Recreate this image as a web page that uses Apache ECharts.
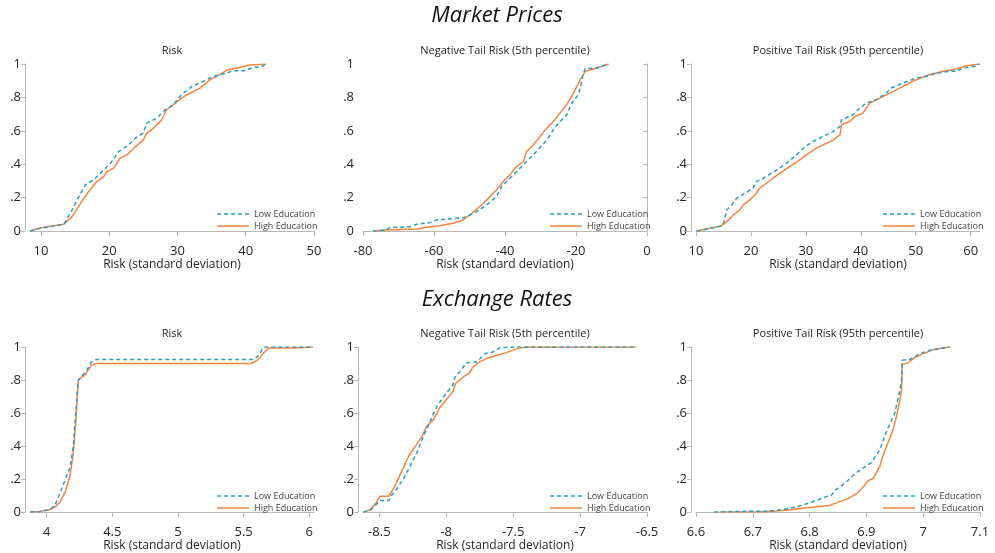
<!DOCTYPE html>
<html>
<head>
<meta charset="utf-8">
<title>Risk distributions by education</title>
<script src="https://cdn.jsdelivr.net/npm/echarts@6/dist/echarts.min.js"></script>
<style>
  html, body { margin: 0; padding: 0; background: #ffffff; }
  #chart { width: 995px; height: 553px; }
</style>
</head>
<body>
<div id="chart"></div>
<script>
// ---- Data: empirical CDFs, [value, cumulative share] ----
const seriesNames = ['Low Education', 'High Education'];
const sectionTitles = ['Market Prices', 'Exchange Rates'];
const panelTitles = ['Risk', 'Negative Tail Risk (5th percentile)', 'Positive Tail Risk (95th percentile)'];
const axisTitle = 'Risk (standard deviation)';
const yTicks = [0, 0.2, 0.4, 0.6, 0.8, 1];

// Market prices
const mpRiskLow = [[8.4,0],[10,0.016],[13.36,0.04],[14.57,0.126],[15.8,0.226],[16.5,0.276],[17.7,0.306],[18.95,0.356],[20.2,0.406],[21.4,0.476],[22.85,0.516],[23.8,0.556],[25.0,0.586],[25.5,0.646],[27.0,0.676],[28.2,0.726],[29.4,0.756],[30.6,0.816],[32.1,0.866],[33.8,0.896],[35.25,0.926],[37.2,0.946],[38.2,0.96],[39.9,0.96],[41.1,0.98],[42.1,0.98],[43.0,1.0]];
const mpRiskHigh = [[8.4,0],[10,0.02],[13.36,0.04],[14.57,0.086],[15.8,0.166],[17.0,0.236],[18.2,0.296],[19.2,0.326],[19.7,0.356],[20.65,0.376],[21.6,0.436],[22.6,0.456],[23.6,0.496],[25.0,0.546],[25.5,0.586],[26.5,0.616],[27.7,0.666],[28.4,0.726],[29.4,0.756],[30.6,0.796],[31.4,0.816],[33.3,0.856],[34.8,0.906],[36.2,0.936],[37.2,0.962],[38.7,0.976],[40.6,0.994],[43.0,1.0]];
const mpNegLow = [[-77.2,0],[-73.4,0.006],[-72.5,0.02],[-66.8,0.026],[-64.9,0.04],[-61.2,0.05],[-59.3,0.066],[-55.5,0.072],[-51.8,0.08],[-49.9,0.096],[-48.0,0.116],[-45.2,0.156],[-42.4,0.206],[-41.0,0.266],[-38.6,0.316],[-35.8,0.376],[-33.9,0.416],[-31.1,0.476],[-28.2,0.546],[-26.4,0.606],[-24.5,0.656],[-22.6,0.696],[-21.2,0.766],[-19.3,0.816],[-17.9,0.946],[-17.4,0.972],[-14.1,0.976],[-10.8,1.0]];
const mpNegHigh = [[-77.2,0],[-73.4,0.006],[-64.9,0.012],[-62.1,0.022],[-58.4,0.032],[-54.6,0.046],[-51.8,0.066],[-49.9,0.096],[-48.0,0.13],[-46.1,0.166],[-44.2,0.206],[-42.4,0.246],[-40.5,0.296],[-38.6,0.336],[-37.2,0.376],[-34.8,0.416],[-33.9,0.476],[-32.0,0.516],[-30.1,0.566],[-28.2,0.616],[-26.4,0.656],[-24.5,0.706],[-22.6,0.756],[-20.7,0.826],[-18.8,0.906],[-17.4,0.956],[-14.1,0.976],[-10.8,1.0]];
const mpPosLow = [[10.1,0],[11.3,0.006],[12.5,0.016],[14.7,0.03],[15.0,0.046],[15.6,0.126],[16.5,0.156],[17.4,0.196],[18.9,0.226],[20.4,0.256],[21.0,0.296],[22.8,0.326],[24.7,0.366],[26.5,0.406],[28.3,0.456],[29.5,0.496],[31.3,0.536],[33.1,0.566],[35.0,0.596],[36.2,0.626],[36.5,0.666],[38.6,0.696],[39.8,0.736],[41.0,0.766],[42.8,0.786],[44.65,0.826],[45.5,0.856],[47.7,0.886],[50.1,0.916],[51.9,0.926],[53.8,0.946],[56.2,0.956],[57.4,0.956],[58.6,0.976],[60.7,0.986],[61.6,1.0]];
const mpPosHigh = [[10.1,0],[12.5,0.016],[14.7,0.032],[15.6,0.056],[16.8,0.096],[18.0,0.126],[18.6,0.156],[19.8,0.186],[21.0,0.226],[21.6,0.256],[22.8,0.286],[24.0,0.316],[25.3,0.346],[27.05,0.386],[28.9,0.426],[30.1,0.456],[31.9,0.496],[33.8,0.526],[35.0,0.546],[36.2,0.576],[36.5,0.636],[38.0,0.656],[38.9,0.686],[40.4,0.706],[41.6,0.766],[43.45,0.796],[45.9,0.836],[47.7,0.866],[50.1,0.906],[52.5,0.936],[55.0,0.956],[57.4,0.97],[59.2,0.99],[61.6,1.0]];

// Exchange rates
const erRiskLow = [[3.873,0],[3.95,0.004],[4.025,0.016],[4.063,0.04],[4.114,0.14],[4.152,0.22],[4.178,0.27],[4.203,0.4],[4.223,0.62],[4.241,0.8],[4.266,0.82],[4.305,0.86],[4.343,0.91],[4.38,0.924],[5.574,0.924],[5.61,0.944],[5.65,0.996],[5.675,1.0],[6.03,1.0]];
const erRiskHigh = [[3.873,0],[3.95,0.004],[4.025,0.016],[4.063,0.03],[4.10,0.06],[4.14,0.12],[4.178,0.22],[4.203,0.36],[4.223,0.56],[4.241,0.8],[4.29,0.83],[4.317,0.86],[4.343,0.89],[4.38,0.9],[5.56,0.9],[5.61,0.924],[5.65,0.96],[5.688,0.994],[5.878,0.994],[6.03,1.0]];
const erNegLow = [[-8.62,0],[-8.57,0.01],[-8.52,0.05],[-8.495,0.07],[-8.43,0.07],[-8.41,0.1],[-8.37,0.14],[-8.32,0.2],[-8.27,0.28],[-8.22,0.36],[-8.17,0.46],[-8.12,0.55],[-8.07,0.64],[-8.01,0.71],[-7.95,0.77],[-7.94,0.81],[-7.89,0.86],[-7.85,0.904],[-7.77,0.91],[-7.71,0.96],[-7.65,0.97],[-7.6,0.996],[-7.47,1.0],[-6.58,1.0]];
const erNegHigh = [[-8.62,0],[-8.57,0.014],[-8.52,0.06],[-8.495,0.096],[-8.43,0.096],[-8.395,0.14],[-8.36,0.2],[-8.32,0.27],[-8.28,0.34],[-8.23,0.4],[-8.18,0.46],[-8.146,0.52],[-8.096,0.56],[-8.05,0.63],[-8.0,0.68],[-7.95,0.73],[-7.93,0.78],[-7.87,0.82],[-7.83,0.84],[-7.8,0.88],[-7.75,0.91],[-7.70,0.93],[-7.62,0.95],[-7.55,0.966],[-7.45,0.996],[-7.37,1.0],[-6.58,1.0]];
const erPosLow = [[6.632,0],[6.676,0.004],[6.729,0.006],[6.753,0.016],[6.776,0.03],[6.794,0.05],[6.812,0.07],[6.826,0.09],[6.838,0.1],[6.844,0.13],[6.856,0.16],[6.867,0.19],[6.879,0.23],[6.891,0.26],[6.909,0.3],[6.924,0.38],[6.932,0.46],[6.941,0.53],[6.95,0.6],[6.959,0.74],[6.962,0.8],[6.963,0.92],[6.976,0.924],[6.994,0.96],[7.012,0.98],[7.029,0.99],[7.047,1.0]];
const erPosHigh = [[6.641,0],[6.712,0.002],[6.741,0.006],[6.771,0.016],[6.794,0.026],[6.818,0.034],[6.835,0.04],[6.847,0.056],[6.867,0.08],[6.882,0.11],[6.894,0.15],[6.903,0.19],[6.912,0.204],[6.924,0.28],[6.929,0.34],[6.938,0.42],[6.947,0.5],[6.953,0.58],[6.959,0.68],[6.962,0.74],[6.963,0.894],[6.973,0.904],[6.985,0.936],[7.0,0.96],[7.018,0.984],[7.035,0.996],[7.047,1.0]];

// x-axis tick values per panel
const xTicksMpRisk = [10, 20, 30, 40, 50];
const xTicksMpNeg = [-80, -60, -40, -20, 0];
const xTicksMpPos = [10, 20, 30, 40, 50, 60];
const xTicksErRisk = [4, 4.5, 5, 5.5, 6];
const xTicksErNeg = [-8.5, -8, -7.5, -7, -6.5];
const xTicksErPos = [6.6, 6.7, 6.8, 6.9, 7, 7.1];

// ---- Layout ----
const FONT = "'Open Sans', 'Noto Sans', 'DejaVu Sans', sans-serif";
const COL_LOW = '#2a9dc0';
const COL_HIGH = '#f5853f';
const AXIS_COL = '#b8b8b8';
const TEXT_COL = '#262626';

// legend keys: a dashed and a solid stroke drawn as thin filled bars
const ICON_DASHED = 'path://M0,0h4v1.5h-4z M7,0h4v1.5h-4z M14,0h4v1.5h-4z M21,0h4v1.5h-4z M28,0h4v1.5h-4z';
const ICON_SOLID = 'path://M0,0h32v1.5h-32z';

const colLeft = [30, 363, 696];
const plotW = 284;
const rowTop = [64, 347];
const plotH = [167, 166];

const panels = [
  { row: 0, col: 0, low: mpRiskLow, high: mpRiskHigh, ticks: xTicksMpRisk, min: 8.4, max: 50 },
  { row: 0, col: 1, low: mpNegLow, high: mpNegHigh, ticks: xTicksMpNeg, min: -80, max: 0 },
  { row: 0, col: 2, low: mpPosLow, high: mpPosHigh, ticks: xTicksMpPos, min: 10, max: 61.7 },
  { row: 1, col: 0, low: erRiskLow, high: erRiskHigh, ticks: xTicksErRisk, min: 3.873, max: 6.036 },
  { row: 1, col: 1, low: erNegLow, high: erNegHigh, ticks: xTicksErNeg, min: -8.622, max: -6.5 },
  { row: 1, col: 2, low: erPosLow, high: erPosHigh, ticks: xTicksErPos, min: 6.6, max: 7.1 }
];

function fmtY(v) {
  if (v === 0) return '0';
  if (v === 1) return '1';
  return String(+v.toFixed(1)).replace(/^0\./, '.');
}

const grid = [], xAxis = [], yAxis = [], series = [], legend = [];
const title = [
  { text: sectionTitles[0], left: 497, top: 5, textAlign: 'center', padding: 0,
    textStyle: { fontFamily: FONT, fontSize: 22, fontStyle: 'italic', fontWeight: 'normal', color: '#111' } },
  { text: sectionTitles[1], left: 497, top: 289, textAlign: 'center', padding: 0,
    textStyle: { fontFamily: FONT, fontSize: 22, fontStyle: 'italic', fontWeight: 'normal', color: '#111' } }
];

panels.forEach((p, i) => {
  const left = colLeft[p.col];
  const top = rowTop[p.row];
  const h = plotH[p.row];
  grid.push({ left: left, top: top, width: plotW, height: h, containLabel: false });

  xAxis.push({
    type: 'value', gridIndex: i, min: p.min, max: p.max, offset: 5,
    name: axisTitle, nameLocation: 'middle', nameGap: 17,
    nameTextStyle: { fontFamily: FONT, fontSize: 12, color: TEXT_COL },
    axisLine: { show: true, lineStyle: { color: AXIS_COL, width: 1 } },
    axisTick: { show: true, length: 5, lineStyle: { color: AXIS_COL }, customValues: p.ticks },
    axisLabel: { fontFamily: FONT, fontSize: 13, color: TEXT_COL, margin: 9, customValues: p.ticks },
    splitLine: { show: false }
  });

  yAxis.push({
    type: 'value', gridIndex: i, min: 0, max: 1, offset: 5,
    axisLine: { show: true, lineStyle: { color: AXIS_COL, width: 1 } },
    axisTick: { show: true, length: 4, lineStyle: { color: AXIS_COL }, customValues: yTicks },
    axisLabel: { fontFamily: FONT, fontSize: 13, color: TEXT_COL, margin: 4, customValues: yTicks, formatter: fmtY },
    splitLine: { show: false }
  });

  title.push({
    text: panelTitles[p.col], left: left + plotW / 2, top: top - 19, textAlign: 'center', padding: 0,
    textStyle: { fontFamily: FONT, fontSize: 11, fontWeight: 'normal', color: TEXT_COL }
  });

  series.push({
    name: seriesNames[0], type: 'line', xAxisIndex: i, yAxisIndex: i, data: p.low,
    symbol: 'none', smooth: false, z: 3,
    lineStyle: { color: COL_LOW, width: 1.5, type: [4, 3] }, itemStyle: { color: COL_LOW }
  });
  series.push({
    name: seriesNames[1], type: 'line', xAxisIndex: i, yAxisIndex: i, data: p.high,
    symbol: 'none', smooth: false, z: 2,
    lineStyle: { color: COL_HIGH, width: 1.5, type: 'solid' }, itemStyle: { color: COL_HIGH }
  });

  legend.push({
    data: [{ name: seriesNames[0], icon: ICON_DASHED }, { name: seriesNames[1], icon: ICON_SOLID }],
    orient: 'vertical', left: left + plotW - 97, top: top + h - 23,
    padding: 0, itemWidth: 32, itemHeight: 2, itemGap: 0, selectedMode: false,
    itemStyle: { borderWidth: 0 },
    textStyle: { fontFamily: FONT, fontSize: 9, lineHeight: 12, color: '#444' }
  });
});

const chart = echarts.init(document.getElementById('chart'), null, { renderer: 'canvas' });
chart.setOption({
  backgroundColor: '#ffffff',
  animation: false,
  title: title,
  legend: legend,
  grid: grid,
  xAxis: xAxis,
  yAxis: yAxis,
  series: series
});
</script>
</body>
</html>
